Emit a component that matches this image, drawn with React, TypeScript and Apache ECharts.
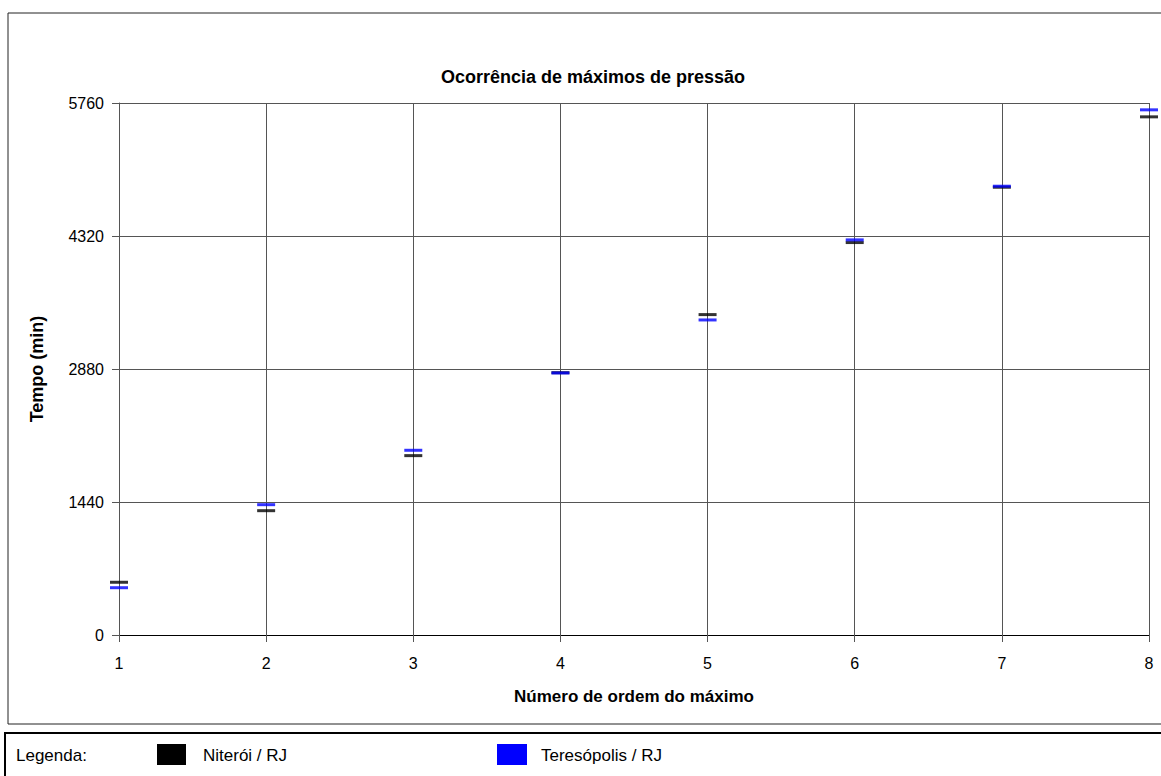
import React, { useEffect, useRef } from "react";
import * as echarts from "echarts";

const ordem = [1, 2, 3, 4, 5, 6, 7, 8];
const niteroi = [571, 1346, 1942, 2840, 3469, 4249, 4848, 5610];
const teresopolis = [512, 1411, 2000, 2837, 3411, 4278, 4859, 5686];
const seriesNames = ["Niterói / RJ", "Teresópolis / RJ"];
const seriesColors = ["#000000", "#0000ff"];

const FONT = "'Liberation Sans', Arial, sans-serif";

export default function App() {
  const ref = useRef<HTMLDivElement>(null);
  useEffect(() => {
    if (!ref.current) return;
    const chart = echarts.init(ref.current, undefined, { renderer: "svg" });
    const mk = (vals: number[]) => ordem.map((x, i) => [x, vals[i]]);
    chart.setOption({
      animation: false,
      backgroundColor: "#ffffff",
      textStyle: { fontFamily: FONT },
      title: {
        text: "Ocorrência de máximos de pressão",
        left: 588,
        top: 63,
        textAlign: "center",
        textStyle: { fontFamily: FONT, fontSize: 18, fontWeight: "bold", color: "#000" },
      },
      grid: { left: 119, right: 12, top: 103, bottom: 141 },
      xAxis: {
        type: "value",
        min: 1,
        max: 8,
        interval: 1,
        name: "Número de ordem do máximo",
        nameLocation: "middle",
        nameGap: 53,
        nameTextStyle: { fontFamily: FONT, fontSize: 17, fontWeight: "bold", color: "#000" },
        axisLine: { show: true, lineStyle: { color: "#000", width: 1 } },
        axisTick: { show: true, length: 7, lineStyle: { color: "#555" } },
        axisLabel: { fontFamily: FONT, fontSize: 16, color: "#000", margin: 20 },
        splitLine: { show: true, lineStyle: { color: "#555", width: 1 } },
      },
      yAxis: {
        type: "value",
        min: 0,
        max: 5760,
        interval: 1440,
        name: "Tempo (min)",
        nameLocation: "middle",
        nameGap: 73,
        nameTextStyle: { fontFamily: FONT, fontSize: 18, fontWeight: "bold", color: "#000" },
        axisLine: { show: true, lineStyle: { color: "#555", width: 1 } },
        axisTick: { show: true, length: 7, lineStyle: { color: "#555" } },
        axisLabel: {
          fontFamily: FONT,
          fontSize: 16,
          color: "#000",
          margin: 15,
          formatter: (v: number) => String(v),
        },
        splitLine: { show: true, lineStyle: { color: "#555", width: 1 } },
      },
      series: [
        {
          name: seriesNames[0],
          type: "scatter",
          symbol: "rect",
          symbolSize: [18, 3],
          clip: false,
          itemStyle: { color: seriesColors[0] },
          data: mk(niteroi),
          z: 3,
        },
        {
          name: seriesNames[1],
          type: "scatter",
          symbol: "rect",
          symbolSize: [18, 3],
          clip: false,
          itemStyle: { color: seriesColors[1] },
          data: mk(teresopolis),
          z: 4,
        },
      ],
      graphic: [
        {
          type: "rect",
          shape: { x: 8, y: 13, width: 1170, height: 711 },
          style: { fill: "none", stroke: "#222", lineWidth: 1 },
          silent: true,
          z: -1,
        },
        {
          type: "rect",
          shape: { x: 5, y: 733, width: 1170, height: 60 },
          style: { fill: "none", stroke: "#000", lineWidth: 2 },
          silent: true,
        },
        {
          type: "text",
          x: 16,
          y: 755,
          style: { text: "Legenda:", font: `17px ${FONT}`, fill: "#000", textVerticalAlign: "middle" },
        },
        {
          type: "rect",
          shape: { x: 157, y: 744, width: 29, height: 21 },
          style: { fill: seriesColors[0] },
        },
        {
          type: "text",
          x: 203,
          y: 755,
          style: { text: seriesNames[0], font: `17px ${FONT}`, fill: "#000", textVerticalAlign: "middle" },
        },
        {
          type: "rect",
          shape: { x: 497, y: 744, width: 30, height: 21 },
          style: { fill: seriesColors[1] },
        },
        {
          type: "text",
          x: 541,
          y: 755,
          style: { text: seriesNames[1], font: `17px ${FONT}`, fill: "#000", textVerticalAlign: "middle" },
        },
      ],
    });
    return () => chart.dispose();
  }, []);
  return (
    <div
      ref={ref}
      style={{ position: "absolute", left: 0, top: 0, width: 1161, height: 776 }}
    />
  );
}
